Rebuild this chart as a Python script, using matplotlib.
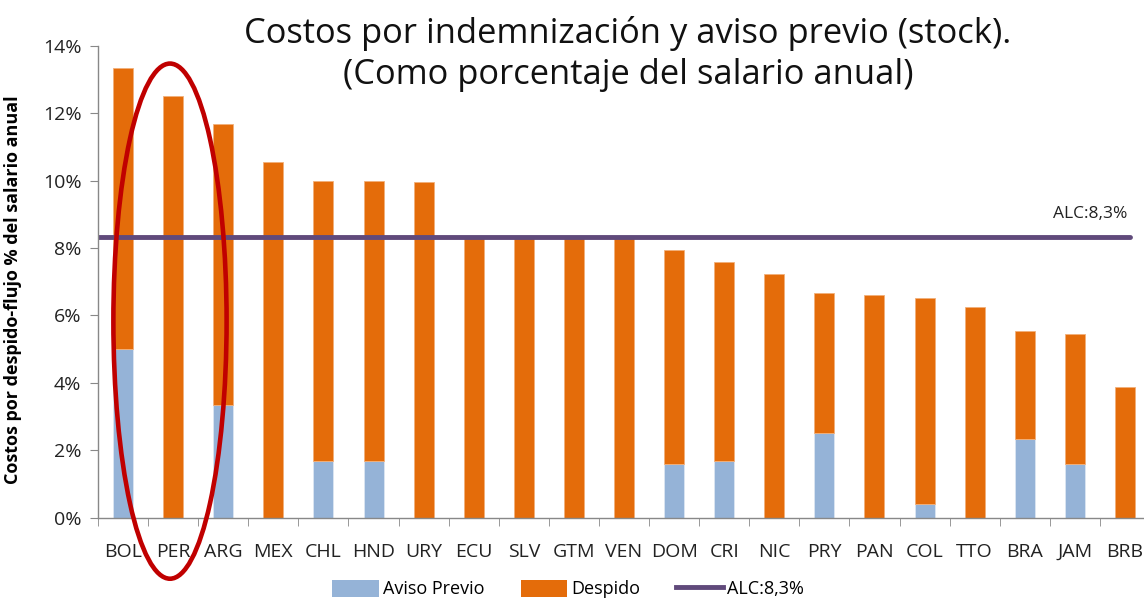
import matplotlib
matplotlib.use("Agg")
import matplotlib.pyplot as plt
import numpy as np
from matplotlib.lines import Line2D
from matplotlib.patches import Patch, Ellipse

countries = ["BOL", "PER", "ARG", "MEX", "CHL", "HND", "URY", "ECU", "SLV", "GTM", "VEN",
             "DOM", "CRI", "NIC", "PRY", "PAN", "COL", "TTO", "BRA", "JAM", "BRB"]
aviso_previo = [5.0, 0.0, 3.33, 0.0, 1.67, 1.67, 0.0, 0.0, 0.0, 0.0, 0.0,
                1.58, 1.67, 0.0, 2.5, 0.0, 0.42, 0.0, 2.33, 1.58, 0.0]
total = [13.33, 12.5, 11.67, 10.56, 10.0, 10.0, 9.95, 8.33, 8.33, 8.33, 8.33,
         7.95, 7.57, 7.22, 6.67, 6.62, 6.53, 6.25, 5.55, 5.45, 3.89]
despido = [t - a for t, a in zip(total, aviso_previo)]
alc_value = 8.33
yticks = [0, 2, 4, 6, 8, 10, 12, 14]

plt.rcParams['font.family'] = ['Open Sans', 'DejaVu Sans']

W, H = 1144, 600
fig = plt.figure(figsize=(W / 100, H / 100), dpi=100)
left, right, top, bottom = 98, 1150, 45.7, 517.7
ax = fig.add_axes([left / W, 1 - bottom / H, (right - left) / W, (bottom - top) / H])

blue = "#95B3D7"
orange = "#E46C0A"
purple = "#604A7B"

x = np.arange(len(countries))
ax.bar(x, aviso_previo, width=0.4, color=blue, edgecolor="#dbe6f2", linewidth=0.6)
ax.bar(x, despido, width=0.4, bottom=aviso_previo, color=orange, edgecolor="#f2b07a", linewidth=0.6)
ax.plot([-0.5, 20.1], [alc_value, alc_value], color=purple, lw=3.5, solid_capstyle='round')
ax.text(20.05, alc_value + 0.45, "ALC:8,3%", ha="right", va="bottom", fontsize=12.5, color="#222222")

# red ellipse highlighting PER
ax.add_patch(Ellipse((0.937, 5.83), 2.26, 15.28, fill=False, edgecolor="#C00000", lw=3.3, clip_on=False, zorder=5))

ax.set_xlim(-0.5, len(countries) - 0.5)
ax.set_ylim(0, 14)
ax.set_yticks(yticks)
ax.set_yticklabels([f"{v}%" for v in yticks], fontsize=14, color="#222222")
ax.set_xticks(x)
ax.set_xticklabels(countries, fontsize=14, color="#222222")
ax.set_xticks(np.arange(-0.5, len(countries), 1), minor=True)
ax.tick_params(axis='x', which='major', length=0, pad=18)
ax.tick_params(axis='x', which='minor', length=6, color="#888888")
ax.tick_params(axis='y', length=6, color="#888888", pad=6)
for s in ["top", "right"]:
    ax.spines[s].set_visible(False)
for s in ["left", "bottom"]:
    ax.spines[s].set_color("#888888")
    ax.spines[s].set_linewidth(1.0)

ax.set_ylabel("Costos por despido-flujo % del salario anual", fontsize=13, fontweight="bold")
ax.yaxis.set_label_coords((22 - left) / (right - left), (517.7 - 290) / (517.7 - 45.7))

fig.text(628 / W, 1 - 54 / H, "Costos por indemnización y aviso previo (stock).\n(Como porcentaje del salario anual)",
         ha="center", va="center", fontsize=24.8, color="#111111", linespacing=1.25)

handles = [Patch(facecolor=blue, edgecolor="none"), Patch(facecolor=orange, edgecolor="none"),
           Line2D([0], [0], color=purple, lw=3.5)]
fig.legend(handles, ["Aviso Previo", "Despido", "ALC:8,3%"], loc="center", bbox_to_anchor=(568 / W, 1 - 589 / H),
           ncol=3, frameon=False, fontsize=13, handlelength=2.6, handleheight=1.1, handletextpad=0.2, columnspacing=2.0)

fig.savefig("out.png", dpi=100)
